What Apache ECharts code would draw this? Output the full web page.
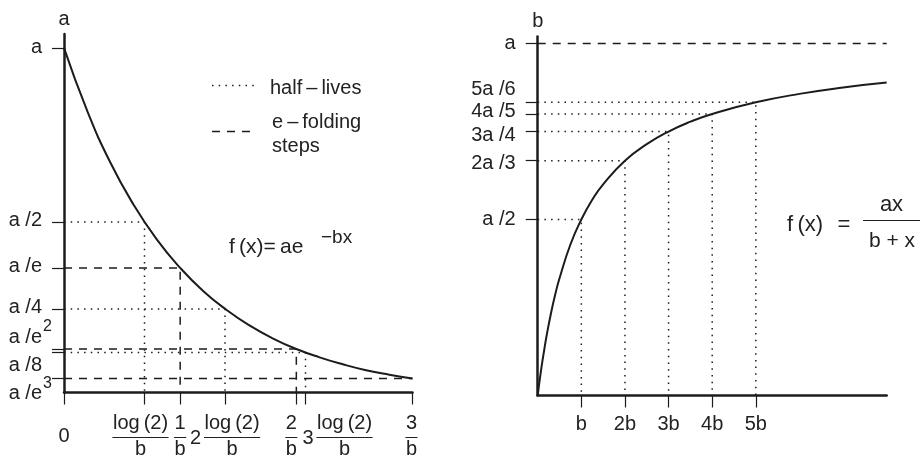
<!DOCTYPE html>
<html>
<head>
<meta charset="utf-8">
<script src="https://cdn.jsdelivr.net/npm/echarts@6/dist/echarts.min.js"></script>
<style>
  html, body { margin: 0; padding: 0; background: #ffffff; }
  #chart { width: 921px; height: 460px; }
</style>
</head>
<body>
<div id="chart"></div>
<script>
// ---- Left panel: exponential decay f(x) = a e^(-bx); x in units of 1/b, f in units of a
const decayX = [0, 0.2, 0.4, 0.6, 0.8, 1.0, 1.2, 1.4, 1.6, 1.8, 2.0, 2.2, 2.4, 2.6, 2.8, 3.0];
const decayY = [1.000, 0.819, 0.670, 0.549, 0.449, 0.368, 0.301, 0.247, 0.202, 0.165, 0.135, 0.111, 0.091, 0.074, 0.061, 0.050];

const decayXTicks = [0, 0.693, 1, 1.386, 2, 2.079, 3];
const decayXTickPrefix = ['', '', '', '2', '', '3', ''];
const decayXTickNum = ['0', 'log\u2009(2)', '1', 'log\u2009(2)', '2', 'log\u2009(2)', '3'];
const decayXTickDen = ['', 'b', 'b', 'b', 'b', 'b', 'b'];

const decayYTicks = [1, 0.5, 0.368, 0.25, 0.135, 0.125, 0.050];
const decayYTickText = ['a', 'a /2', 'a /e', 'a /4', 'a /e', 'a /8', 'a /e'];
const decayYTickSup = ['', '', '', '', '2', '', '3'];

// half-lives (dotted) and e-folding steps (dashed)
const halfLifeX = [0.693, 1.386, 2.079];
const halfLifeY = [0.5, 0.25, 0.125];
const eFoldX = [1, 2, 3];
const eFoldY = [0.368, 0.135, 0.050];

// ---- Right panel: saturating curve f(x) = ax/(b+x); x in units of b, f in units of a
const satX = [0, 0.02, 0.05, 0.1, 0.15, 0.2, 0.3, 0.4, 0.5, 0.75, 1, 1.25, 1.5, 2, 2.5, 3, 3.5, 4, 5, 6, 7, 8];
const satY = [0, 0.0196, 0.048, 0.091, 0.130, 0.167, 0.231, 0.286, 0.333, 0.429, 0.5, 0.556, 0.6, 0.667, 0.714, 0.75, 0.778, 0.8, 0.833, 0.857, 0.875, 0.889];

const satXTicks = [1, 2, 3, 4, 5];
const satXTickText = ['b', '2b', '3b', '4b', '5b'];
const satYTicks = [1, 0.833, 0.8, 0.75, 0.667, 0.5];
const satYTickText = ['a', '5a /6', '4a /5', '3a /4', '2a /3', 'a /2'];

const satLevelX = [1, 2, 3, 4, 5];
const satLevelY = [0.5, 0.667, 0.75, 0.8, 0.833];
const satAsymptote = 1;

// ---- axis extents
const decayXRange = [0, 3];
const decayYRange = [0.01, 1.04];
const satXRange = [0, 8];
const satYRange = [0, 1.02];

// ---- label nudges (pixels) so crowded labels do not collide
const decayYLabelShift = [0, -1, -1, -1, -12, 13, 15];
const decayXLabelShift = [0, -4, 0, 0, -5, 32, -1];
const satYLabelShift = [0, -13, -2, 4, 3, 0];

// ---- styling
const INK = '#1c1c1c';
const TEXT = '#222222';
const FONT = '"Liberation Sans", Arial, Helvetica, sans-serif';
const FS = 20;

const dottedStyle = { color: INK, width: 1.5, type: [1.5, 5.2] };
const dashedStyle = { color: INK, width: 1.5, type: [8, 7] };

const measureCtx = document.createElement('canvas').getContext('2d');
function textWidth(str, size) {
  measureCtx.font = size + 'px ' + FONT;
  return measureCtx.measureText(str).width;
}

function guideSeries(idx, x, y, floor, style, drop) {
  const pts = [[0, y], [x, y]];
  if (drop) pts.push([x, floor]);
  return {
    type: 'line', xAxisIndex: idx, yAxisIndex: idx, data: pts,
    showSymbol: false, silent: true, lineStyle: style, z: 2
  };
}

function yLabelSeries(idx, ticks, texts, sups, shifts) {
  return {
    type: 'custom', xAxisIndex: idx, yAxisIndex: idx, silent: true, z: 5,
    data: ticks.map(v => [0, v]),
    renderItem(params, api) {
      const i = params.dataIndex;
      const p = api.coord([api.value(0), api.value(1)]);
      const xr = p[0] - 22;
      const y = p[1] + shifts[i];
      const kids = [{
        type: 'text', x: xr, y: y,
        style: { text: texts[i], fontSize: FS, fontFamily: FONT, fill: TEXT, align: 'right', verticalAlign: 'middle' }
      }];
      if (sups[i]) {
        kids.push({
          type: 'text', x: xr + 1, y: y - 10,
          style: { text: sups[i], fontSize: 16, fontFamily: FONT, fill: TEXT, align: 'left', verticalAlign: 'middle' }
        });
      }
      return { type: 'group', children: kids };
    }
  };
}

function fractionLabelSeries(idx, ticks, floor, pre, num, den, shifts) {
  return {
    type: 'custom', xAxisIndex: idx, yAxisIndex: idx, silent: true, z: 5,
    data: ticks.map(v => [v, floor]),
    renderItem(params, api) {
      const i = params.dataIndex;
      const p = api.coord([api.value(0), api.value(1)]);
      const barY = Math.round(p[1] + 44) + 0.5;
      const base = { fontSize: FS, fontFamily: FONT, fill: TEXT, verticalAlign: 'middle' };
      if (!den[i]) {
        return { type: 'text', x: p[0] + shifts[i], y: barY - 1,
          style: Object.assign({ text: num[i], align: 'center' }, base) };
      }
      const preW = pre[i] ? textWidth(pre[i], FS) + 3 : 0;
      const barW = Math.max(textWidth(num[i], FS), textWidth(den[i], FS)) + 1;
      const left = p[0] + shifts[i] - (preW + barW) / 2;
      const mid = left + preW + barW / 2;
      const kids = [
        { type: 'text', x: mid, y: barY - 14, style: Object.assign({ text: num[i], align: 'center' }, base) },
        { type: 'line', shape: { x1: left + preW, y1: barY, x2: left + preW + barW, y2: barY },
          style: { stroke: TEXT, lineWidth: 1 } },
        { type: 'text', x: mid, y: barY + 12, style: Object.assign({ text: den[i], align: 'center' }, base) }
      ];
      if (pre[i]) {
        kids.push({ type: 'text', x: left, y: barY + 1, style: Object.assign({ text: pre[i], align: 'left' }, base) });
      }
      return { type: 'group', children: kids };
    }
  };
}

function xLabelSeries(idx, ticks, floor, texts) {
  return {
    type: 'custom', xAxisIndex: idx, yAxisIndex: idx, silent: true, z: 5,
    data: ticks.map(v => [v, floor]),
    renderItem(params, api) {
      const i = params.dataIndex;
      const p = api.coord([api.value(0), api.value(1)]);
      return { type: 'text', x: p[0], y: p[1] + 29,
        style: { text: texts[i], fontSize: FS, fontFamily: FONT, fill: TEXT, align: 'center', verticalAlign: 'middle' } };
    }
  };
}

function axisCommon(range, ticks) {
  return {
    type: 'value', min: range[0], max: range[1],
    axisLine: { show: true, onZero: false, lineStyle: { color: INK, width: 2.5 } },
    axisTick: { show: true, customValues: ticks, length: 12, lineStyle: { color: INK, width: 1.2 } },
    axisLabel: { show: false },
    splitLine: { show: false }
  };
}

const series = [];

// decay curve
series.push({
  type: 'line', xAxisIndex: 0, yAxisIndex: 0,
  data: decayX.map((x, i) => [x, decayY[i]]),
  showSymbol: false, smooth: 0.5, silent: true, z: 3,
  lineStyle: { color: INK, width: 2 }
});
halfLifeX.forEach((x, i) => series.push(guideSeries(0, x, halfLifeY[i], decayYRange[0], dottedStyle, x < decayXRange[1])));
eFoldX.forEach((x, i) => series.push(guideSeries(0, x, eFoldY[i], decayYRange[0], dashedStyle, x < decayXRange[1])));

// saturating curve
series.push({
  type: 'line', xAxisIndex: 1, yAxisIndex: 1,
  data: satX.map((x, i) => [x, satY[i]]),
  showSymbol: false, smooth: 0.5, silent: true, z: 3,
  lineStyle: { color: INK, width: 2 }
});
satLevelX.forEach((x, i) => series.push(guideSeries(1, x, satLevelY[i], satYRange[0], dottedStyle, true)));
series.push(guideSeries(1, satXRange[1], satAsymptote, satYRange[0], dashedStyle, false));

// tick labels
series.push(yLabelSeries(0, decayYTicks, decayYTickText, decayYTickSup, decayYLabelShift));
series.push(fractionLabelSeries(0, decayXTicks, decayYRange[0], decayXTickPrefix, decayXTickNum, decayXTickDen, decayXLabelShift));
series.push(yLabelSeries(1, satYTicks, satYTickText, satYTicks.map(() => ''), satYLabelShift));
series.push(xLabelSeries(1, satXTicks, satYRange[0], satXTickText));

const txt = { fontFamily: FONT, fill: TEXT };

const option = {
  backgroundColor: '#ffffff',
  animation: false,
  grid: [
    { left: 64, top: 34, width: 348.5, height: 358.5 },
    { left: 537.7, top: 36.5, width: 349, height: 359 }
  ],
  xAxis: [
    Object.assign({ gridIndex: 0 }, axisCommon(decayXRange, decayXTicks)),
    Object.assign({ gridIndex: 1 }, axisCommon(satXRange, satXTicks))
  ],
  yAxis: [
    Object.assign({ gridIndex: 0, name: 'a', nameLocation: 'end', nameGap: 5,
      nameTextStyle: { fontSize: FS, fontFamily: FONT, color: TEXT } }, axisCommon(decayYRange, decayYTicks)),
    Object.assign({ gridIndex: 1, name: 'b', nameLocation: 'end', nameGap: 5,
      nameTextStyle: { fontSize: FS, fontFamily: FONT, color: TEXT } }, axisCommon(satYRange, satYTicks))
  ],
  graphic: [
    // legend
    { type: 'line', silent: true, shape: { x1: 212, y1: 85.5, x2: 257, y2: 85.5 },
      style: { stroke: INK, lineWidth: 1.5, lineDash: [1.5, 5.2] } },
    { type: 'text', silent: true, x: 270, y: 88,
      style: Object.assign({ text: 'half\u2009\u2013\u2009lives', fontSize: 20, verticalAlign: 'middle' }, txt) },
    { type: 'line', silent: true, shape: { x1: 212, y1: 131.5, x2: 257, y2: 131.5 },
      style: { stroke: INK, lineWidth: 1.5, lineDash: [8, 7] } },
    { type: 'text', silent: true, x: 272, y: 110,
      style: Object.assign({ text: 'e\u2009\u2013\u2009folding\nsteps', fontSize: 20, lineHeight: 24, verticalAlign: 'top' }, txt) },
    // formula, left panel
    { type: 'text', silent: true, x: 229, y: 247,
      style: Object.assign({ text: 'f\u2009(x)=\u2009ae', fontSize: 21, verticalAlign: 'middle' }, txt) },
    { type: 'text', silent: true, x: 321, y: 238,
      style: Object.assign({ text: '\u2212bx', fontSize: 19, verticalAlign: 'middle' }, txt) },
    // formula, right panel
    { type: 'text', silent: true, x: 787, y: 225,
      style: Object.assign({ text: 'f\u2009(x)', fontSize: 22, verticalAlign: 'middle' }, txt) },
    { type: 'text', silent: true, x: 844, y: 225,
      style: Object.assign({ text: '=', fontSize: 22, align: 'center', verticalAlign: 'middle' }, txt) },
    { type: 'line', silent: true, shape: { x1: 863, y1: 220.5, x2: 920, y2: 220.5 },
      style: { stroke: TEXT, lineWidth: 1.2 } },
    { type: 'text', silent: true, x: 891.5, y: 205,
      style: Object.assign({ text: 'ax', fontSize: 22, align: 'center', verticalAlign: 'middle' }, txt) },
    { type: 'text', silent: true, x: 892, y: 241,
      style: Object.assign({ text: 'b + x', fontSize: 21, align: 'center', verticalAlign: 'middle' }, txt) }
  ],
  series: series
};

const chart = echarts.init(document.getElementById('chart'), null, { renderer: 'canvas' });
chart.setOption(option);
</script>
</body>
</html>
